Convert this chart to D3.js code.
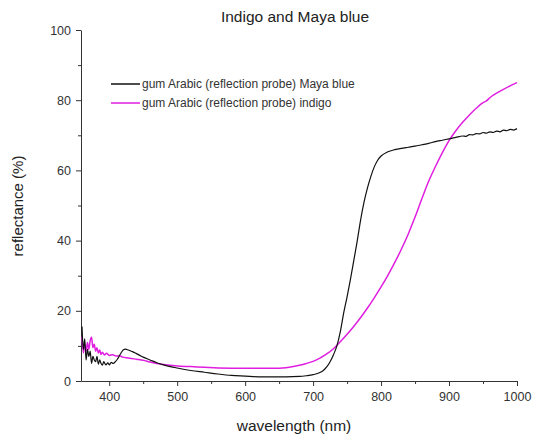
<!DOCTYPE html>
<html>
<head>
<meta charset="utf-8">
<script src="https://cdn.jsdelivr.net/npm/d3@7"></script>
<style>
  body { margin: 0; background: #fff; }
  svg { font-family: Arial, "Liberation Sans", sans-serif; }
  .axis path, .axis line { stroke: #333; }
  .axis text { fill: #333; font-size: 12.5px; }
</style>
</head>
<body>
<svg id="chart" width="534" height="435"></svg>
<script>
// Maya blue (black)
var mayaWl = [360,362,364,366,368,370,372,374,376,378,380,382,384,386,388,390,392,395,398,400,403,406,409,412,415,418,421,424,427,430,435,440,445,450,460,470,480,490,500,520,540,560,580,600,620,640,660,680,690,700,710,715,720,725,730,735,740,745,750,755,760,765,770,775,780,785,790,795,800,810,820,830,840,850,860,870,880,890,900,910,920,925,930,935,940,945,950,955,960,965,970,975,980,985,990,995,1000];
var mayaR = [15.5,9,12,6,9,7,8.5,5,7,6,5.5,7,4.8,6,5,4.5,5.5,4.6,5.2,4.6,5.3,5,5.5,6.2,7.2,8.2,8.9,9.1,8.9,8.7,8.3,7.8,7.3,6.8,6,5.2,4.6,4.1,3.7,3,2.5,2,1.6,1.4,1.2,1.2,1.2,1.3,1.5,1.8,2.4,3,4,5.5,7.5,10,14,19.4,24,29,34.5,40,46,51,55,58.3,61,62.9,64.1,65.3,65.9,66.3,66.6,66.9,67.3,67.7,68.2,68.6,69,69.4,69.8,69.7,70.2,70.1,70.5,70.4,70.8,70.6,71,70.8,71.2,71,71.5,71.3,71.7,71.5,71.9];

// indigo (magenta)
var indigoWl = [360,362,364,366,368,370,372,374,376,378,380,382,384,386,388,390,393,396,400,405,410,415,420,425,430,440,450,460,470,480,490,500,520,540,560,600,640,660,680,690,700,710,720,730,740,750,760,770,780,790,800,810,820,830,840,850,860,870,880,890,900,910,920,930,940,950,955,960,970,980,990,1000];
var indigoR = [12.6,8,10.5,8.5,11,9,11.5,12.5,9.5,10.5,8.5,9.5,8,8.8,7.6,8.2,7.4,7.9,7.3,7.5,7.1,7.2,6.8,6.6,6.5,6.2,5.9,5.4,5,4.7,4.5,4.3,4.1,3.9,3.7,3.6,3.6,3.8,4.5,5,5.6,6.5,7.7,9.2,11.2,13.3,15.6,18.1,20.8,23.7,26.8,30.1,33.7,37.6,41.9,46.7,51.9,56.9,61.1,65,68.5,71.3,73.7,75.8,77.7,79.3,79.8,80.7,82,83.1,84.1,85];

var xTicks = [400,500,600,700,800,900,1000];
var yTicks = [0,20,40,60,80,100];
var legendLabels = ["gum Arabic (reflection probe) Maya blue", "gum Arabic (reflection probe) indigo"];
var colors = ["#111111", "#e01ee0"];

var svg = d3.select("#chart");
var x = d3.scaleLinear().domain([358.5, 1000]).range([81, 517]);
var y = d3.scaleLinear().domain([0, 100]).range([381, 30]);

// minor ticks first
svg.append("g").attr("class", "axis")
  .attr("transform", "translate(0,381)")
  .call(d3.axisBottom(x).tickValues(d3.range(450, 1000, 100)).tickSize(3).tickFormat(""))
  .select(".domain").remove();
svg.append("g").attr("class", "axis")
  .attr("transform", "translate(81,0)")
  .call(d3.axisLeft(y).tickValues(d3.range(10, 100, 20)).tickSize(3).tickFormat(""))
  .select(".domain").remove();

svg.append("g").attr("class", "axis")
  .attr("transform", "translate(0,381)")
  .call(d3.axisBottom(x).tickValues(xTicks).tickSize(5).tickSizeOuter(0).tickPadding(6).tickFormat(d3.format("d")));
svg.append("g").attr("class", "axis")
  .attr("transform", "translate(81,0)")
  .call(d3.axisLeft(y).tickValues(yTicks).tickSize(5).tickSizeOuter(0).tickPadding(5));

var line = d3.line().curve(d3.curveMonotoneX)
  .x(function(d){ return x(d[0]); }).y(function(d){ return y(d[1]); });

svg.append("path")
  .datum(d3.zip(indigoWl, indigoR))
  .attr("fill", "none").attr("stroke", colors[1]).attr("stroke-width", 1.5)
  .attr("d", line);
svg.append("path")
  .datum(d3.zip(mayaWl, mayaR))
  .attr("fill", "none").attr("stroke", colors[0]).attr("stroke-width", 1.2)
  .attr("d", line);

// legend
var leg = svg.append("g").selectAll("g").data(legendLabels).enter().append("g")
  .attr("transform", function(d, i){ return "translate(111," + (84 + i * 19) + ")"; });
leg.append("line").attr("x1", 0).attr("x2", 29)
  .attr("stroke", function(d, i){ return colors[i]; }).attr("stroke-width", 1.5);
leg.append("text").attr("x", 31).attr("dy", "0.35em")
  .attr("font-size", "12px").attr("fill", "#333").text(function(d){ return d; });

svg.append("text").attr("x", 295).attr("y", 22).attr("text-anchor", "middle")
  .attr("font-size", "15.5px").attr("fill", "#222").text("Indigo and Maya blue");
svg.append("text").attr("x", 294).attr("y", 431).attr("text-anchor", "middle")
  .attr("font-size", "15.5px").attr("fill", "#222").text("wavelength (nm)");
svg.append("text").attr("transform", "translate(23,206) rotate(-90)").attr("text-anchor", "middle")
  .attr("font-size", "15px").attr("fill", "#222").text("reflectance (%)");
</script>
</body>
</html>
